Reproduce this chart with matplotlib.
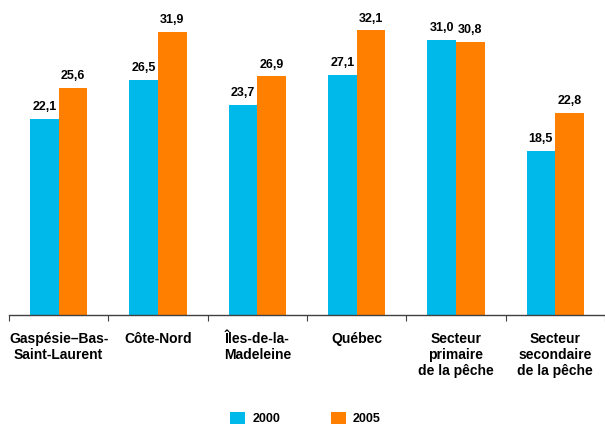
import matplotlib
matplotlib.use("Agg")
import numpy as np
import matplotlib.pyplot as plt
from matplotlib.patches import Patch

# données
categories = ["Gaspésie–Bas-\nSaint-Laurent", "Côte-Nord", "Îles-de-la-\nMadeleine",
              "Québec", "Secteur\nprimaire\nde la pêche", "Secteur\nsecondaire\nde la pêche"]
val_2000 = [22.1, 26.5, 23.7, 27.1, 31.0, 18.5]
val_2005 = [25.6, 31.9, 26.9, 32.1, 30.8, 22.8]
series_labels = ["2000", "2005"]

c2000 = "#00B9EB"
c2005 = "#FF8000"

plt.rcParams['font.family'] = ['Liberation Sans', 'DejaVu Sans']

fig = plt.figure(figsize=(6.05, 4.26), dpi=100)
ax = fig.add_axes([9 / 605, 1 - 315 / 426, 1 - 9 / 605, 315 / 426])

x = np.arange(len(categories))
w = 0.29
b1 = ax.bar(x - w / 2, val_2000, w, color=c2000, edgecolor="none")
b2 = ax.bar(x + w / 2, val_2005, w, color=c2005, edgecolor="none")

for bars, vals in ((b1, val_2000), (b2, val_2005)):
    for rect, v in zip(bars, vals):
        ax.annotate(f"{v:.1f}".replace(".", ","),
                    (rect.get_x() + rect.get_width() / 2, rect.get_height()),
                    xytext=(0, 4), textcoords="offset points",
                    ha="center", va="bottom", fontsize=9, fontweight="bold")

ax.set_xlim(-0.5, len(categories) - 0.5)
ax.set_ylim(0, 35.5)

for s in ("top", "right", "left"):
    ax.spines[s].set_visible(False)
ax.spines["bottom"].set_color("#404040")
ax.spines["bottom"].set_linewidth(1.0)
ax.set_yticks([])

# graduations aux limites des groupes, étiquettes au centre
ax.set_xticks(np.arange(len(categories) + 1) - 0.5)
ax.set_xticklabels([])
ax.tick_params(axis="x", which="major", length=4, color="#404040", direction="out")
ax.set_xticks(x, minor=True)
ax.set_xticklabels(categories, minor=True, fontsize=10, fontweight="bold")
ax.tick_params(axis="x", which="minor", length=0, pad=12)

handles = [Patch(facecolor=c2000), Patch(facecolor=c2005)]
fig.legend(handles, series_labels, loc="center", bbox_to_anchor=(0.505, 0.018),
           ncol=2, frameon=False, prop={"size": 9, "weight": "bold"},
           handlelength=1.2, handleheight=1.2, handletextpad=0.6, columnspacing=4.0)

fig.savefig("out.png", dpi=100)
